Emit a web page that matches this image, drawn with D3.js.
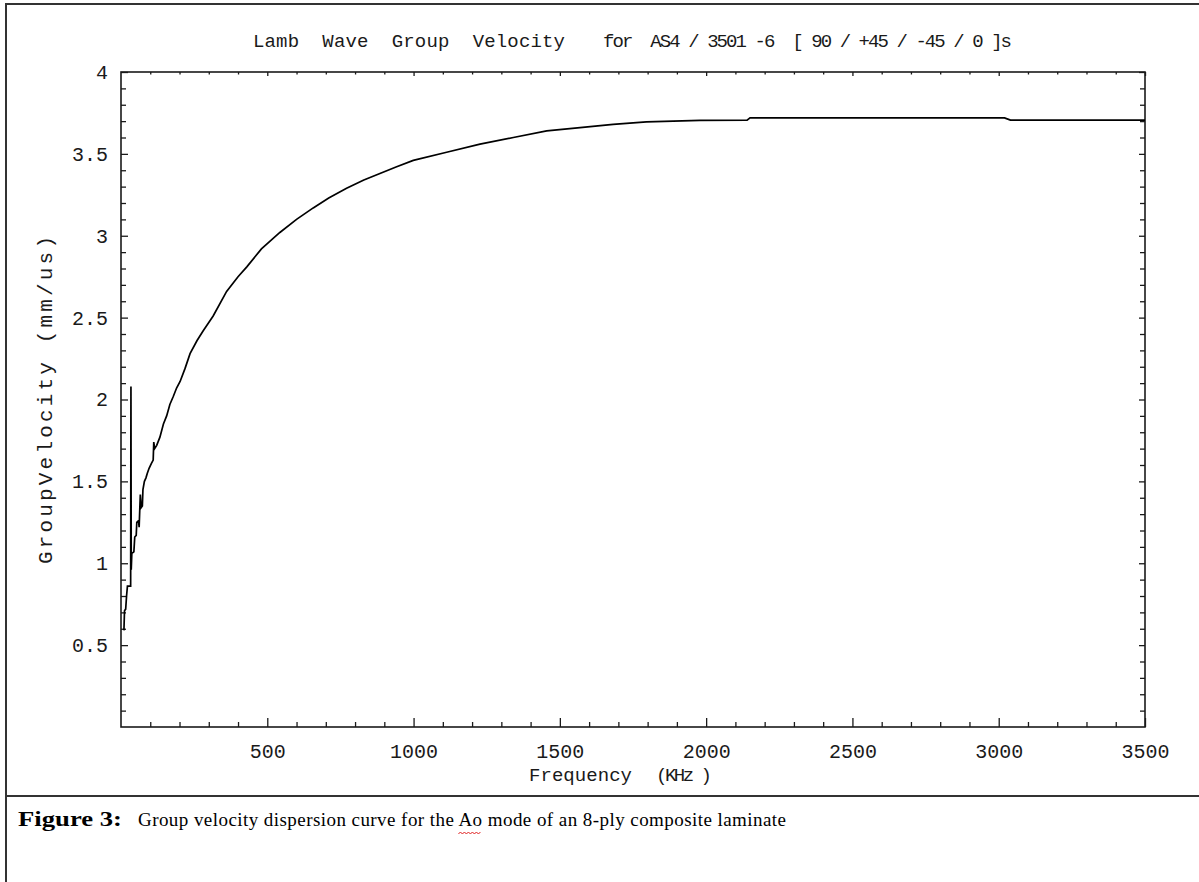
<!DOCTYPE html>
<html>
<head>
<meta charset="utf-8">
<script src="https://cdn.jsdelivr.net/npm/d3@7"></script>
<style>
  html, body { margin: 0; padding: 0; background: #fff; }
  svg { display: block; }
  text { white-space: pre; }
</style>
</head>
<body>
<svg id="chart" width="1199" height="882"></svg>
<script>
// ---- data ----
const freq = [10, 12, 16, 19, 22, 33, 34, 35, 37, 44, 47, 52, 54, 60, 62, 66, 69, 73, 75, 80, 85, 90, 96, 104, 110, 112, 115, 122, 133, 145, 156, 167, 179, 190, 202, 219, 236, 260, 281, 315, 361, 400, 430, 480, 543, 600, 657, 710, 771, 830, 885, 940, 999, 1113, 1227, 1341, 1455, 1569, 1682, 1796, 1979, 2140, 2150, 3020, 3040, 3500];
const velocity = [0.59, 0.71, 0.72, 0.80, 0.86, 0.86, 2.08, 0.96, 1.06, 1.07, 1.16, 1.17, 1.25, 1.26, 1.22, 1.42, 1.34, 1.35, 1.45, 1.50, 1.52, 1.55, 1.58, 1.61, 1.63, 1.74, 1.70, 1.72, 1.77, 1.85, 1.90, 1.97, 2.02, 2.07, 2.11, 2.19, 2.28, 2.36, 2.42, 2.51, 2.66, 2.75, 2.81, 2.92, 3.02, 3.10, 3.17, 3.23, 3.29, 3.34, 3.38, 3.42, 3.46, 3.51, 3.56, 3.60, 3.64, 3.66, 3.68, 3.695, 3.705, 3.706, 3.72, 3.72, 3.706, 3.706];
const xTickLabels = [500, 1000, 1500, 2000, 2500, 3000, 3500];
const yTickLabels = [0.5, 1, 1.5, 2, 2.5, 3, 3.5, 4];
const titleLeft = "Lamb  Wave  Group  Velocity";
const titleRight = "for  AS4 / 3501 -6  [ 90 / +45 / -45 / 0 ]s";
const xLabelA = "Frequency";
const xLabelB = "(KHz )";
const yLabel = "GroupVelocity (mm/us)";
const captionBold = "Figure 3:";
const captionPre = "Group velocity dispersion curve for the ";
const captionAo = "Ao";
const captionPost = " mode of an 8-ply composite laminate";

// ---- layout ----
const svg = d3.select("#chart");
const L = 121, R = 1145, T = 72, B = 727;
const x = d3.scaleLinear().domain([0, 3500]).range([L, R]);
const y = d3.scaleLinear().domain([0, 4]).range([B, T]);
const mono = "'Liberation Mono', 'DejaVu Sans Mono', monospace";
const serif = "'Liberation Serif', 'DejaVu Serif', serif";
const ink = "#1a1a1a";

// outer frame
svg.append("line").attr("x1", 6).attr("x2", 6).attr("y1", 4).attr("y2", 882)
  .attr("stroke", "#333").attr("stroke-width", 2);
svg.append("line").attr("x1", 5).attr("x2", 1199).attr("y1", 4).attr("y2", 4)
  .attr("stroke", "#333").attr("stroke-width", 2);
svg.append("line").attr("x1", 5).attr("x2", 1199).attr("y1", 796).attr("y2", 796)
  .attr("stroke", "#333").attr("stroke-width", 2);

// title
svg.append("text").attr("x", 253).attr("y", 47).attr("font-family", mono).attr("font-size", 19)
  .attr("fill", ink).attr("textLength", 312).attr("lengthAdjust", "spacing").text(titleLeft);
svg.append("text").attr("x", 603).attr("y", 47).attr("font-family", mono).attr("font-size", 19)
  .attr("fill", ink).attr("textLength", 409).attr("lengthAdjust", "spacing").text(titleRight);

// axes helpers
const minorX = d3.range(100, 3500, 100).filter(v => v % 500 !== 0);
const minorY = d3.range(1, 40).map(v => v / 10).filter(v => Math.round(v * 10) % 5 !== 0);

function styleAxis(g) {
  g.select(".domain").remove();
  g.selectAll(".tick line").attr("stroke", ink).attr("stroke-width", 1.3);
  g.selectAll(".tick text").attr("font-family", mono).attr("font-size", 20).attr("fill", ink);
}

// bottom axis
svg.append("g").attr("transform", `translate(0,${B})`)
  .call(d3.axisBottom(x).tickValues(xTickLabels).tickSize(-9).tickPadding(17).tickFormat(d3.format("d")))
  .call(styleAxis);
svg.append("g").attr("transform", `translate(0,${B})`)
  .call(d3.axisBottom(x).tickValues(minorX).tickSize(-5).tickFormat(""))
  .call(styleAxis);
// top axis
svg.append("g").attr("transform", `translate(0,${T})`)
  .call(d3.axisTop(x).tickValues(xTickLabels).tickSize(-4).tickFormat(""))
  .call(styleAxis);
svg.append("g").attr("transform", `translate(0,${T})`)
  .call(d3.axisTop(x).tickValues(minorX).tickSize(-2.5).tickFormat(""))
  .call(styleAxis);
// left axis
svg.append("g").attr("transform", `translate(${L},0)`)
  .call(d3.axisLeft(y).tickValues(yTickLabels).tickSize(-7).tickPadding(13).tickFormat(d3.format("")))
  .call(styleAxis);
svg.append("g").attr("transform", `translate(${L},0)`)
  .call(d3.axisLeft(y).tickValues(minorY).tickSize(-5).tickFormat(""))
  .call(styleAxis);
// right axis
svg.append("g").attr("transform", `translate(${R},0)`)
  .call(d3.axisRight(y).tickValues(yTickLabels).tickSize(-6).tickFormat(""))
  .call(styleAxis);
svg.append("g").attr("transform", `translate(${R},0)`)
  .call(d3.axisRight(y).tickValues(minorY).tickSize(-5).tickFormat(""))
  .call(styleAxis);

// plot frame
svg.append("rect").attr("x", L).attr("y", T).attr("width", R - L).attr("height", B - T)
  .attr("fill", "none").attr("stroke", ink).attr("stroke-width", 1.6);

// curve
const line = d3.line().x((d, i) => x(freq[i])).y((d, i) => y(velocity[i]));
svg.append("path").datum(freq).attr("d", line)
  .attr("fill", "none").attr("stroke", "#000").attr("stroke-width", 1.7).attr("stroke-linejoin", "miter");

// axis labels
svg.append("text").attr("x", 529).attr("y", 781).attr("font-family", mono).attr("font-size", 19)
  .attr("fill", ink).attr("textLength", 103).attr("lengthAdjust", "spacing").text(xLabelA);
svg.append("text").attr("x", 656).attr("y", 781).attr("font-family", mono).attr("font-size", 19)
  .attr("fill", ink).attr("textLength", 56).attr("lengthAdjust", "spacing").text(xLabelB);
svg.append("text").attr("transform", "translate(52,400) rotate(-90)").attr("text-anchor", "middle")
  .attr("font-family", mono).attr("font-size", 21).attr("fill", ink)
  .attr("textLength", 328).attr("lengthAdjust", "spacing").text(yLabel);

// caption
svg.append("text").attr("x", 18).attr("y", 826).attr("font-family", serif).attr("font-size", 20)
  .attr("font-weight", "bold").attr("fill", "#000")
  .attr("textLength", 104).attr("lengthAdjust", "spacingAndGlyphs").text(captionBold);
const cap = svg.append("text").attr("x", 138).attr("y", 826).attr("font-family", serif).attr("font-size", 19)
  .attr("fill", "#000").attr("textLength", 648).attr("lengthAdjust", "spacing");
cap.append("tspan").text(captionPre);
cap.append("tspan").text(captionAo);
cap.append("tspan").text(captionPost);

// spell-check squiggle under "Ao"
const node = cap.node();
const i0 = captionPre.length;
const sx = node.getStartPositionOfChar(i0).x;
const ex = node.getEndPositionOfChar(i0 + 1).x;
const pts = [];
for (let px = sx, k = 0; px <= ex; px += 2, k++) pts.push([px, 833 + (k % 2 ? -1 : 1)]);
svg.append("path").attr("d", d3.line()(pts)).attr("fill", "none").attr("stroke", "#e02020").attr("stroke-width", 1);
</script>
</body>
</html>
